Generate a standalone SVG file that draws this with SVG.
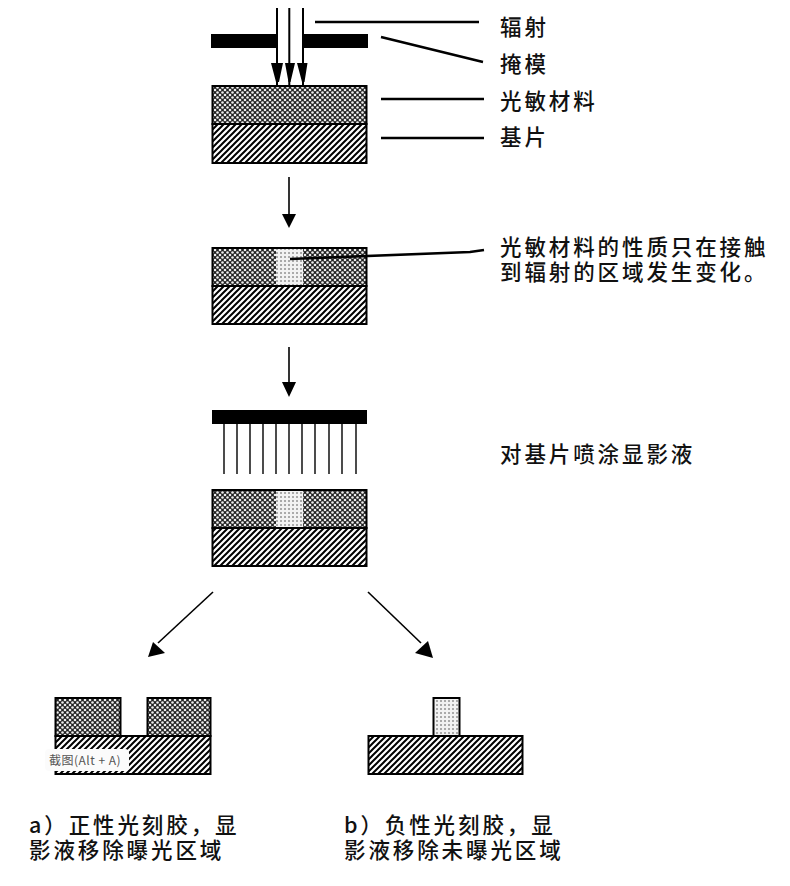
<svg xmlns="http://www.w3.org/2000/svg" width="790" height="886" viewBox="0 0 790 886">
<style>
text{font-family:"Noto Sans CJK SC","Noto Sans",sans-serif;font-size:21.500px;font-weight:500;fill:#111;letter-spacing:2.9px}
.l{stroke:#000;stroke-width:2.6;fill:none}
.t{stroke:#000;stroke-width:1.6;fill:none}
.box{stroke:#000;stroke-width:2}
.r{fill:url(#resist)}.s{fill:url(#sub)}.e{fill:url(#exp)}
.h{fill:#000}
</style>
<defs>
<pattern id="resist" width="5" height="5" patternUnits="userSpaceOnUse"><rect width="5" height="5" fill="#222"/><circle cx="0" cy="0" r="1.300" fill="#eee"/><circle cx="5" cy="0" r="1.300" fill="#eee"/><circle cx="0" cy="5" r="1.300" fill="#eee"/><circle cx="5" cy="5" r="1.300" fill="#eee"/><circle cx="2.500" cy="2.500" r="1.300" fill="#eee"/></pattern>
<pattern id="sub" width="6" height="6" patternUnits="userSpaceOnUse"><rect width="6" height="6" fill="#fff"/><path d="M-1.500 1.500L1.500 -1.500M-1.500 7.500L7.500 -1.500M4.500 7.500L7.500 4.500" stroke="#000" stroke-width="2"/></pattern>
<pattern id="exp" width="4" height="4" patternUnits="userSpaceOnUse"><rect width="4" height="4" fill="#f2f2f2"/><rect x="0" y="0" width="2" height="2" fill="#aaa"/></pattern>
</defs>
<g id="mask1"><rect x="211" y="34" width="66" height="14"/><rect x="303" y="34" width="65" height="14"/></g>
<g id="stack1"><rect class="box r" x="212.500" y="86" width="154" height="38"/><rect class="box s" x="212.500" y="124" width="154" height="39"/></g>
<g id="stack2"><rect class="box r" x="212.500" y="248" width="154" height="38"/><rect class="e" x="276" y="249" width="27" height="36"/><rect class="box s" x="212.500" y="286" width="154" height="38"/></g>
<g id="spray"><rect x="212" y="410" width="155" height="14"/></g>
<g id="stack3"><rect class="box r" x="212.500" y="490" width="154" height="38"/><rect class="e" x="276" y="491" width="27" height="36"/><rect class="box s" x="212.500" y="528" width="154" height="38"/></g>
<g id="result-a"><rect class="box r" x="55.500" y="698" width="65" height="38"/><rect class="box r" x="147.500" y="698" width="63" height="38"/><rect class="box s" x="55.500" y="736" width="155" height="38"/>
<rect x="45" y="749" width="84" height="22" rx="4" fill="#fbfbfb"/><text x="49" y="765" style="font-size:12px;font-weight:400;letter-spacing:0.500px;fill:#555">截图(Alt + A)</text></g>
<g id="result-b"><rect class="box e" x="433.500" y="698" width="26" height="38"/><rect class="box s" x="368.500" y="736" width="154" height="38"/></g>
<g id="connectors">
<path class="t" d="M277 8V86M289.300 8V86M303 8V86" style="stroke-width:2"/>
<path class="h" d="M271 63H283L279 82H276ZM285 63H295L290.500 82H288.500ZM297 63H307.500L304.500 82H302Z"/>
<path class="l" d="M315 22H479M381 37L483 62M381 99H484M381 138H484M290 259L470 252L484 250"/>
<path class="t" d="M289 177V216"/><path class="h" d="M282 214H296L289 228Z"/>
<path class="t" d="M289 347V384"/><path class="h" d="M282 382H296L289 397Z"/>
<path class="t" d="M213 592L158 643"/><path class="h" d="M148 657L153 642L165 653Z"/>
<path class="t" d="M368 592L421 643"/><path class="h" d="M433 658L428 641L415 653Z"/>
<path stroke="#000" stroke-width="1.400" d="M224 424V474M237 424V474M250 424V474M263 424V474M276 424V474M289 424V474M302 424V474M315 424V474M329 424V474M342 424V474M356 424V474"/>
</g>
<g id="labels">
<text x="500" y="35">辐射</text>
<text x="500" y="72">掩模</text>
<text x="500" y="109">光敏材料</text>
<text x="500" y="145">基片</text>
<text x="500" y="255">光敏材料的性质只在接触<tspan x="500" y="280">到辐射的区域发生变化。</tspan></text>
<text x="500" y="462">对基片喷涂显影液</text>
<text x="29" y="833">a）正性光刻胶，显<tspan x="29" y="858">影液移除曝光区域</tspan></text>
<text x="344" y="833">b）负性光刻胶，显<tspan x="344" y="858">影液移除未曝光区域</tspan></text>
</g>
</svg>
